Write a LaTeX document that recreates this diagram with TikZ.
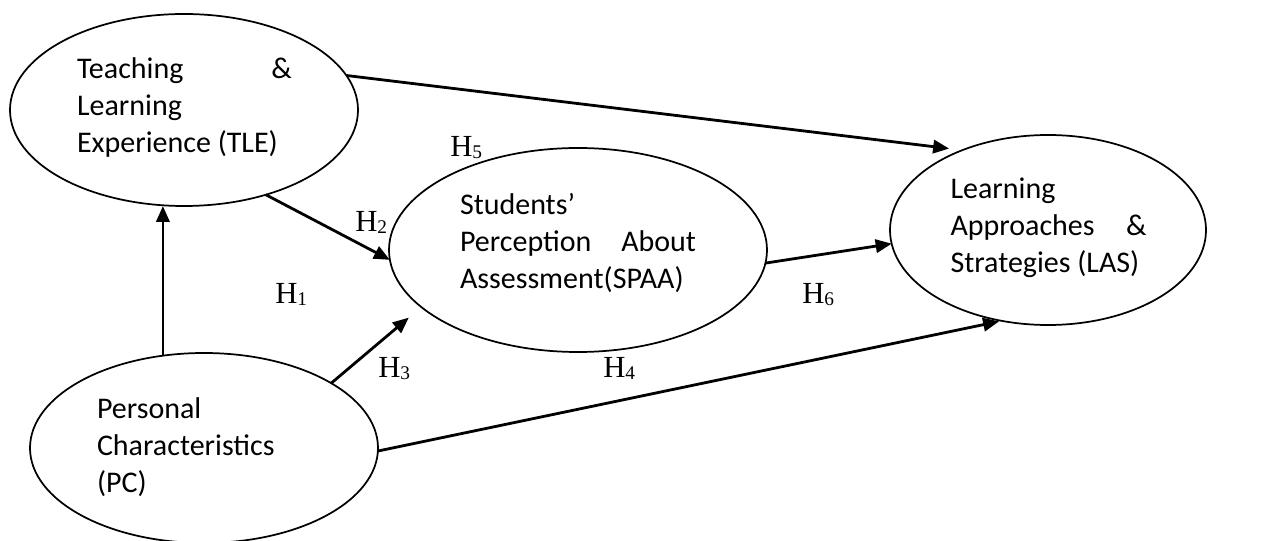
\documentclass[tikz,border=0pt]{standalone}
\usepackage{fontspec}
\newfontfamily\carl{Carlito}
\newfontfamily\tnr{Liberation Serif}
\usetikzlibrary{shapes.geometric,arrows.meta,calc}
\tikzset{
  oval/.style={ellipse, draw, line width=1.3pt, inner sep=0pt, outer sep=0pt},
  txt/.style={inner sep=0pt, align=flush left, font=\carl\fontsize{22.5}{27.75}\selectfont},
  hyp/.style={inner sep=0pt, anchor=base west, font=\tnr\fontsize{23}{23}\selectfont},
  arr/.style={line width=2.1pt, -{Triangle[length=12pt,width=10pt]}},
}
\newcommand{\hyplabel}[1]{H\raisebox{-1.5pt}{\fontsize{14.5}{14.5}\selectfont #1}}
\begin{document}
\begin{tikzpicture}[x=0.75pt,y=-0.75pt]
\useasboundingbox (0,0) rectangle (1264,541);
% ellipses
\node[oval, minimum width=261pt, minimum height=144pt] (TLE) at (184,110) {};
\node[oval, minimum width=283.5pt, minimum height=153pt] (SPAA) at (578,250) {};
\node[oval, minimum width=237pt, minimum height=142.5pt] (LAS) at (1048,230) {};
\node[oval, minimum width=261pt, minimum height=142.5pt] (PC) at (204,448) {};
% texts
\node[txt, text width=161.25pt] (TLEt) at (184.5,107.6) {Teaching\hfill\&\\Learning\\Experience (TLE)};
\node[txt, text width=177pt] (SPAAt) at (578,242.9) {Students’\\Perception\hfill About\\Assessment(SPAA)};
\node[txt, text width=147pt] (LASt) at (1048.5,228) {Learning\\Approaches\hfill\&\\Strategies (LAS)};
\node[txt, text width=160.5pt] (PCt) at (204,447.4) {Personal\\Characteristics\\(PC)};
% connectors
\draw[arr, shorten >=10pt] (TLE.12.8) -- (LAS.137.6);
\draw[arr] (TLE.-46.3) -- (SPAA.183.7);
\draw[arr] (PC.114.5) -- (PC.114.5 |- TLE.south);
\draw[arr, shorten >=12.3pt] (PC.27.6) -- (SPAA.200.4);
\draw[arr] (SPAA.-4.9) -- (LAS.185.3);
\draw[arr, shorten >=2pt] (PC.-1) -- (LAS.243.96);
% hypothesis labels
\node[hyp] (H1) at (275,304) {\hyplabel{1}};
\node[hyp] (H2) at (355,232) {\hyplabel{2}};
\node[hyp] (H3) at (378,378) {\hyplabel{3}};
\node[hyp] (H4) at (603,378) {\hyplabel{4}};
\node[hyp] (H5) at (450,157) {\hyplabel{5}};
\node[hyp] (H6) at (802,304) {\hyplabel{6}};
\end{tikzpicture}
\end{document}
